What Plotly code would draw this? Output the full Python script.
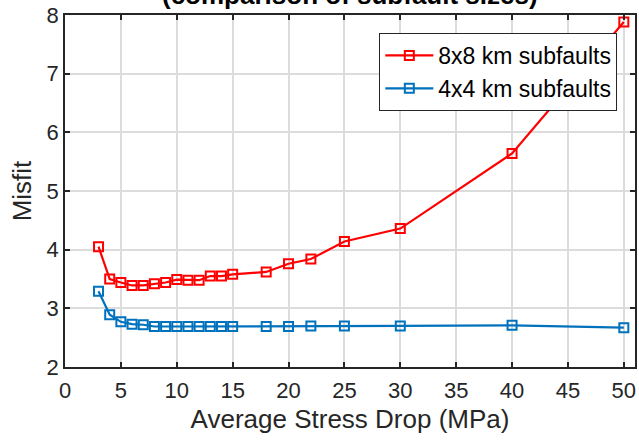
import plotly.graph_objects as go

stress = [3, 4, 5, 6, 7, 8, 9, 10, 11, 12, 13, 14, 15, 18, 20, 22, 25, 30, 40, 50]
misfit_8x8 = [4.05, 3.50, 3.44, 3.39, 3.39, 3.42, 3.44, 3.49, 3.48, 3.48, 3.55, 3.55, 3.58,
              3.62, 3.76, 3.84, 4.14, 4.36, 5.64, 7.88]
misfit_4x4 = [3.29, 2.89, 2.77, 2.73, 2.72, 2.69, 2.69, 2.69, 2.69, 2.69, 2.69, 2.69, 2.69,
              2.69, 2.69, 2.70, 2.70, 2.70, 2.71, 2.67]
x_ticks = [0, 5, 10, 15, 20, 25, 30, 35, 40, 45, 50]
y_ticks = [2, 3, 4, 5, 6, 7, 8]

font_family = "Liberation Sans, Arial, Helvetica, sans-serif"
dark = "#262626"

fig = go.Figure()
fig.add_trace(go.Scatter(
    x=stress, y=misfit_8x8, mode="lines+markers", name="8x8 km subfaults",
    line=dict(color="#ff0000", width=2.2),
    marker=dict(symbol="square-open", size=9, color="#ff0000", line=dict(width=2)),
))
fig.add_trace(go.Scatter(
    x=stress, y=misfit_4x4, mode="lines+markers", name="4x4 km subfaults",
    line=dict(color="#0072bd", width=2.2),
    marker=dict(symbol="square-open", size=9, color="#0072bd", line=dict(width=2)),
))

axis_common = dict(
    showline=True, linecolor=dark, linewidth=1.5, mirror="allticks",
    ticks="inside", ticklen=5, tickwidth=1.5, tickcolor=dark,
    showgrid=True, gridcolor="#dcdcdc", gridwidth=1.5, zeroline=False,
    tickfont=dict(family=font_family, size=22, color=dark),
)

fig.update_xaxes(range=[0, 51], tickvals=x_ticks, ticklabelstandoff=3,
                 title=dict(text="Average Stress Drop (MPa)", font=dict(family=font_family, size=26, color=dark), standoff=8),
                 **axis_common)
fig.update_yaxes(range=[2, 8], tickvals=y_ticks,
                 title=dict(text="Misfit", font=dict(family=font_family, size=26, color=dark), standoff=7),
                 **axis_common)

fig.add_annotation(text="<b>(comparison of subfault sizes)</b>", xref="paper", yref="paper",
                   x=0.5, y=1, xanchor="center", yanchor="bottom", yshift=3, showarrow=False,
                   font=dict(family=font_family, size=26, color="#000000"))

fig.update_layout(
    width=639, height=441,
    margin=dict(l=65, r=2, t=15, b=74),
    paper_bgcolor="white", plot_bgcolor="white",
    legend=dict(x=0.969, y=0.949, xanchor="right", yanchor="top",
                bgcolor="white", bordercolor=dark, borderwidth=1,
                font=dict(family=font_family, size=23, color="#000000"),
                itemwidth=48, tracegroupgap=0),
    showlegend=True,
)

fig.write_html("out.html")
